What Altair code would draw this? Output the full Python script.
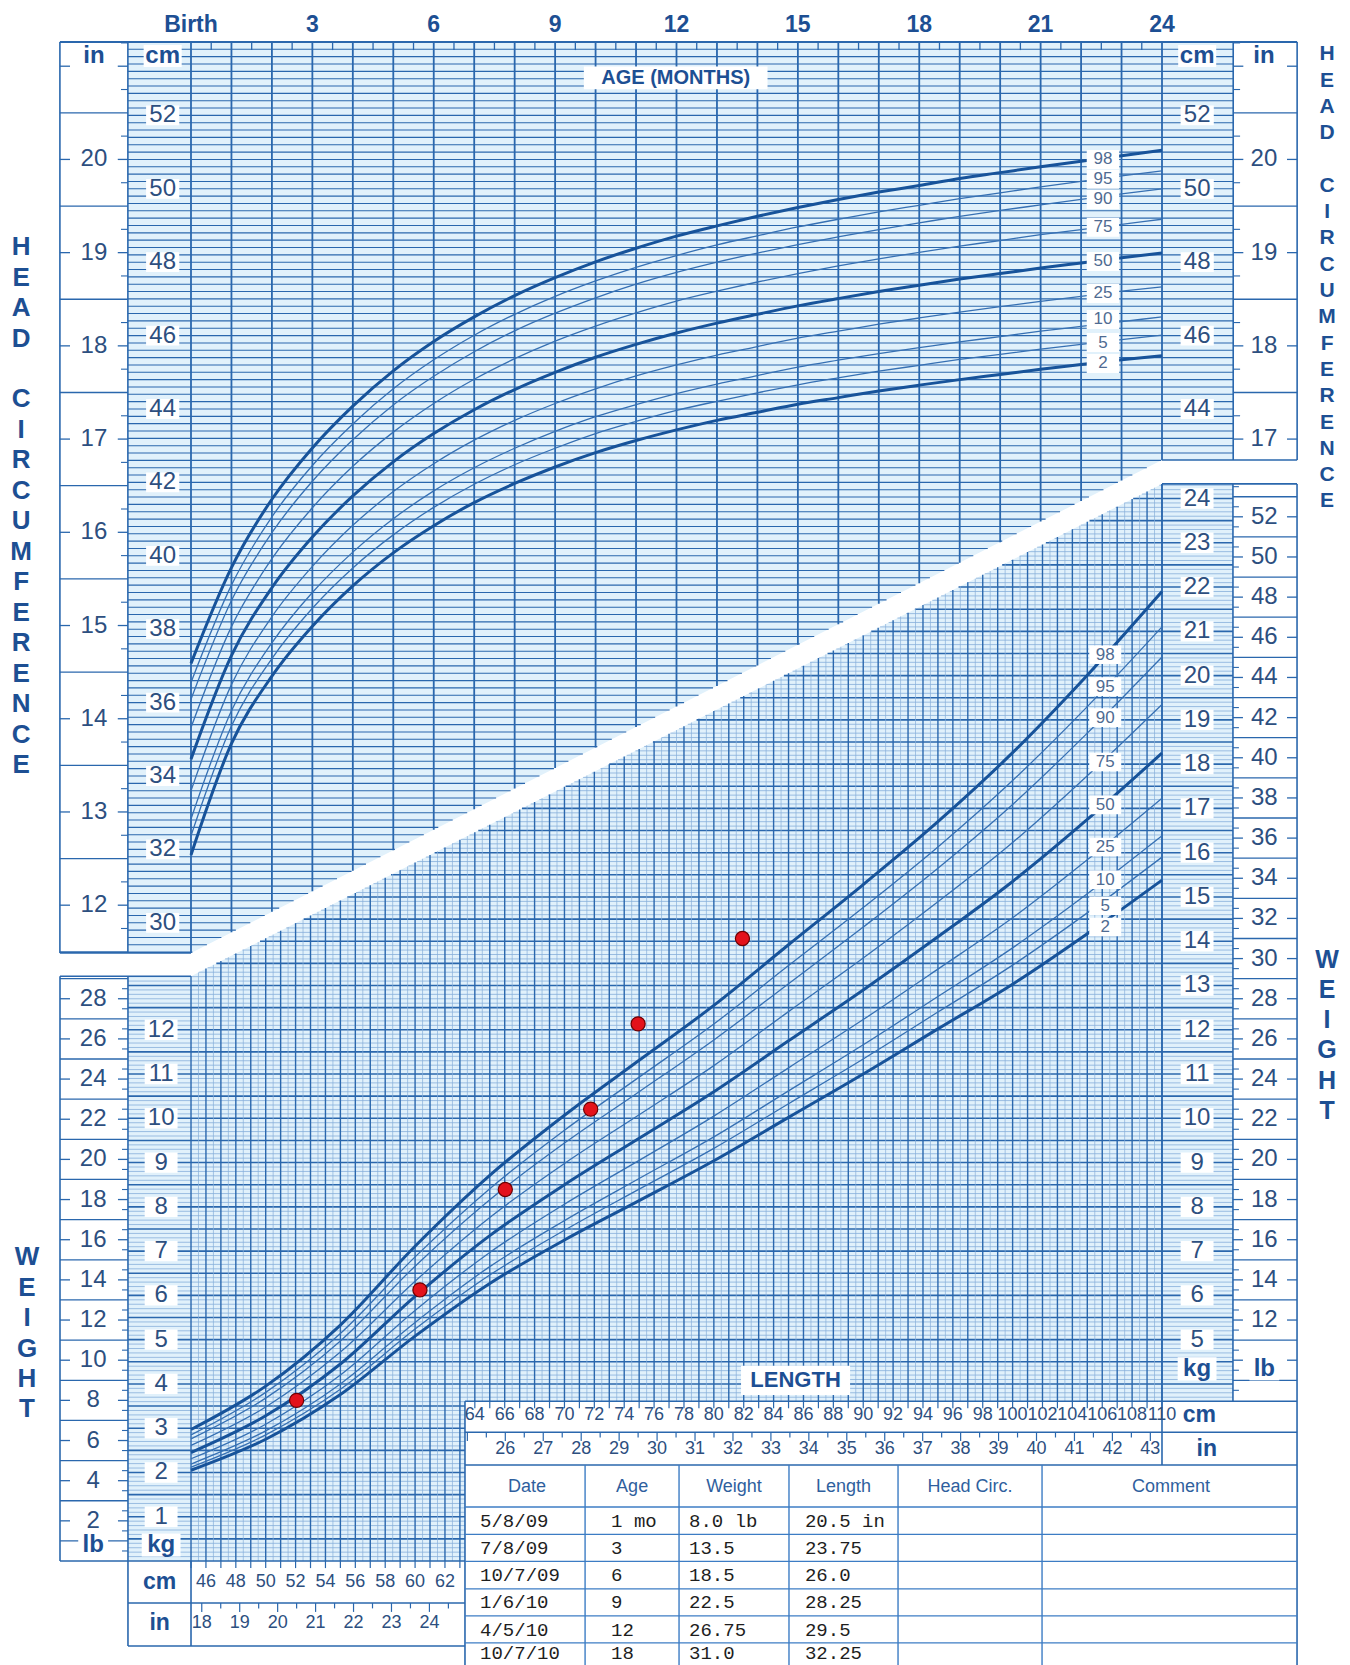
import altair as alt
import numpy as np
import pandas as pd

# ======================= values =======================
PCTS = ["2", "5", "10", "25", "50", "75", "90", "95", "98"]
HEAVY = ["2", "50", "98"]

# Head circumference-for-age percentiles (cm), birth .. 24 months
hc_age = list(range(0, 25))
hc_p2 = [31.85, 34.88, 36.72, 38.08, 39.18, 40.08, 40.82, 41.45, 41.97, 42.42, 42.81, 43.14, 43.43,
         43.69, 43.91, 44.13, 44.31, 44.49, 44.65, 44.80, 44.94, 45.08, 45.21, 45.34, 45.45]
hc_p5 = [32.37, 35.36, 37.20, 38.57, 39.67, 40.57, 41.32, 41.95, 42.48, 42.93, 43.33, 43.66, 43.96,
         44.21, 44.44, 44.66, 44.85, 45.03, 45.19, 45.35, 45.49, 45.63, 45.76, 45.89, 46.01]
hc_p10 = [32.83, 35.78, 37.63, 39.00, 40.10, 41.01, 41.77, 42.40, 42.93, 43.39, 43.79, 44.12, 44.42,
          44.68, 44.91, 45.14, 45.33, 45.51, 45.67, 45.83, 45.97, 46.12, 46.25, 46.38, 46.51]
hc_p25 = [33.60, 36.49, 38.34, 39.71, 40.83, 41.75, 42.51, 43.15, 43.69, 44.15, 44.55, 44.90, 45.20,
          45.47, 45.70, 45.93, 46.12, 46.31, 46.48, 46.64, 46.79, 46.93, 47.07, 47.21, 47.33]
hc_p50 = [34.46, 37.28, 39.13, 40.51, 41.63, 42.56, 43.33, 43.98, 44.53, 45.00, 45.41, 45.76, 46.07,
          46.34, 46.58, 46.81, 47.01, 47.20, 47.37, 47.54, 47.69, 47.84, 47.98, 48.12, 48.25]
hc_p75 = [35.32, 38.07, 39.92, 41.31, 42.44, 43.37, 44.15, 44.81, 45.37, 45.85, 46.26, 46.62, 46.94,
          47.21, 47.46, 47.69, 47.90, 48.09, 48.27, 48.44, 48.59, 48.75, 48.89, 49.03, 49.17]
hc_p90 = [36.09, 38.78, 40.63, 42.03, 43.16, 44.11, 44.89, 45.56, 46.13, 46.61, 47.03, 47.40, 47.72,
          48.00, 48.25, 48.48, 48.69, 48.89, 49.07, 49.25, 49.41, 49.56, 49.71, 49.86, 50.00]
hc_p95 = [36.55, 39.20, 41.06, 42.46, 43.59, 44.55, 45.34, 46.01, 46.58, 47.07, 47.49, 47.86, 48.18,
          48.47, 48.72, 48.96, 49.17, 49.37, 49.55, 49.73, 49.89, 50.05, 50.20, 50.35, 50.49]
hc_p98 = [37.07, 39.68, 41.54, 42.94, 44.08, 45.04, 45.84, 46.51, 47.09, 47.58, 48.01, 48.38, 48.71,
          48.99, 49.25, 49.49, 49.71, 49.91, 50.09, 50.28, 50.44, 50.60, 50.75, 50.90, 51.05]
hc_label_cm = [45.24, 45.81, 46.44, 47.15, 48.02, 48.95, 49.71, 50.26, 50.80]
HC_LABEL_AGE = 22.54

# Weight-for-length percentiles (kg), 45 .. 110 cm
wl_len = [45, 50, 55, 60, 65, 70, 75, 80, 85, 90, 95, 100, 105, 110]
wl_p2 = [2.05, 2.75, 3.76, 5.08, 6.27, 7.25, 8.14, 9.04, 10.02, 11.00, 12.02, 13.03, 14.17, 15.38]
wl_p5 = [2.12, 2.85, 3.88, 5.24, 6.46, 7.47, 8.40, 9.32, 10.33, 11.34, 12.40, 13.46, 14.64, 15.90]
wl_p10 = [2.19, 2.94, 4.00, 5.39, 6.65, 7.69, 8.64, 9.58, 10.62, 11.66, 12.75, 13.85, 15.07, 16.38]
wl_p25 = [2.31, 3.09, 4.20, 5.66, 6.97, 8.06, 9.05, 10.05, 11.14, 12.23, 13.37, 14.53, 15.84, 17.23]
wl_p50 = [2.45, 3.28, 4.45, 5.98, 7.35, 8.50, 9.55, 10.60, 11.75, 12.90, 14.10, 15.35, 16.75, 18.25]
wl_p75 = [2.61, 3.48, 4.72, 6.32, 7.76, 8.98, 10.08, 11.19, 12.41, 13.62, 14.89, 16.23, 17.74, 19.35]
wl_p90 = [2.76, 3.68, 4.97, 6.66, 8.16, 9.44, 10.60, 11.77, 13.04, 14.32, 15.65, 17.09, 18.70, 20.42]
wl_p95 = [2.85, 3.81, 5.14, 6.87, 8.41, 9.73, 10.93, 12.13, 13.45, 14.76, 16.13, 17.63, 19.30, 21.10]
wl_p98 = [2.97, 3.95, 5.33, 7.11, 8.71, 10.07, 11.31, 12.55, 13.92, 15.28, 16.70, 18.26, 20.01, 21.90]
wl_label_kg = [14.32, 14.80, 15.39, 16.13, 17.08, 18.05, 19.05, 19.75, 20.47]
WL_LABEL_LEN = 106.2

# Patient record (table + plotted points)
visit_date = ["5/8/09", "7/8/09", "10/7/09", "1/6/10", "4/5/10", "10/7/10"]
visit_age = ["1 mo", "3", "6", "9", "12", "18"]
visit_weight_txt = ["\u00a0\u00a08.0 lb", "13.5", "18.5", "22.5", "26.75", "31.0"]
visit_length_txt = ["20.5 in", "23.75", "26.0", "28.25", "29.5", "32.25"]
visit_weight_lb = [8.0, 13.5, 18.5, 22.5, 26.75, 31.0]
visit_length_in = [20.5, 23.75, 26.0, 28.25, 29.5, 32.25]
table_headers = ["Date", "Age", "Weight", "Length", "Head  Circ.", "Comment"]

# Tick labels
month_ticks = [0, 3, 6, 9, 12, 15, 18, 21, 24]
month_labels = ["Birth", "3", "6", "9", "12", "15", "18", "21", "24"]
hc_cm_left = [30, 32, 34, 36, 38, 40, 42, 44, 46, 48, 50, 52]
hc_in_left = [12, 13, 14, 15, 16, 17, 18, 19, 20]
hc_cm_right = [44, 46, 48, 50, 52]
hc_in_right = [17, 18, 19, 20]
wt_kg_left = [1, 2, 3, 4, 5, 6, 7, 8, 9, 10, 11, 12]
wt_lb_left = [2, 4, 6, 8, 10, 12, 14, 16, 18, 20, 22, 24, 26, 28]
wt_kg_right = list(range(5, 25))
wt_lb_right = list(range(12, 53, 2))
len_cm_left = [46, 48, 50, 52, 54, 56, 58, 60, 62]
len_in_left = [18, 19, 20, 21, 22, 23, 24]
len_cm_right = list(range(64, 111, 2))
len_in_right = list(range(26, 44))

TITLE_HEAD_1 = "\n".join("HEAD")
TITLE_HEAD_2 = "\n".join("CIRCUMFERENCE")
TITLE_WEIGHT = "\n".join("WEIGHT")

IN = 2.54
LB = 0.45359237

# ======================= layout (in chart units) =======================
W, H = 1334, 1657
HX_DOM = [-4.523, 28.449]
HY_DOM = [9.777, 54.926]
WX_DOM = [32.749, 122.050]
WY_DOM = [-2.349, 35.080]

AGE_MAX = 24
A_IN_L, A_CM_L, A_CM_R, A_IN_R = -3.24, -1.56, 25.76, 27.34
HC_TOP, HC_BAND_L, HC_BAND_R = 54.0, 29.18, 42.61

LEN_MIN, LEN_MAX = 45, 110
L_LB_L, L_KG_L, L_SPLIT, L_KG_R, L_LB_R = 36.23, 40.78, 63.34, 114.75, 119.04
KG_BAND_L, KG_BAND_R, KG_FLOOR_R = 13.21, 24.33, 3.61
BOXL_MID, BOXL_BOT = -0.95, -1.92
BOXR_MID, BOXR_BOT = 2.91, 2.17
TABLE_ROWS = [1.22, 0.60, -0.01, -0.63, -1.24, -1.85]
TABLE_TEXT_Y = [0.90, 0.29, -0.32, -0.93, -1.55, -2.07]
TABLE_HEAD_Y = 1.67
TABLE_BOT = -2.35
TABLE_COLS = [71.38, 77.67, 85.03, 92.33, 101.97]
TABLE_HEAD_X = [67.5, 74.53, 81.35, 88.68, 97.15, 110.6]
TABLE_TEXT_X = [64.35, 73.12, 78.34, 86.10]

BG = "#e1f1fb"
GRID = "#2a67ad"
GRID_LT = "#86afda"
CURVE = "#17539a"
CURVE_THIN = "#3670b3"
TXT = "#2d4f7f"
TXT_B = "#1d4f93"
PCT_TXT = "#4f6b92"
SANS = "Liberation Sans"
MONO = "Liberation Mono"

HXS = alt.Scale(domain=HX_DOM, nice=False, zero=False)
HYS = alt.Scale(domain=HY_DOM, nice=False, zero=False)
WXS = alt.Scale(domain=WX_DOM, nice=False, zero=False)
WYS = alt.Scale(domain=WY_DOM, nice=False, zero=False)


def xy(coord, stack=False):
    xs, ys = (HXS, HYS) if coord == "h" else (WXS, WYS)
    yk = dict(scale=ys, axis=None)
    if stack:
        yk["stack"] = None
    return dict(x=alt.X("x:Q", scale=xs, axis=None), y=alt.Y("y:Q", **yk))


def hseg(x, x2, y, c=GRID, w=1.3):
    return dict(x=x, x2=x2, y=y, y2=y, c=c, w=w)


def vseg(x, y, y2, c=GRID, w=1.3):
    return dict(x=x, x2=x, y=y, y2=y2, c=c, w=w)


def rules(rows, coord):
    return alt.Chart(pd.DataFrame(rows)).mark_rule(strokeCap="butt").encode(
        x2="x2:Q", y2="y2:Q",
        color=alt.Color("c:N", scale=None),
        strokeWidth=alt.StrokeWidth("w:Q", scale=None), **xy(coord))


def boxes(rows, coord, fill="white"):
    return alt.Chart(pd.DataFrame(rows)).mark_rect(fill=fill, stroke=None).encode(
        x2="x2:Q", y2="y2:Q", **xy(coord))


def texts(rows, coord, size, weight="normal", color=TXT, font=SANS, align="center", **kw):
    return alt.Chart(pd.DataFrame(rows)).mark_text(
        fontSize=size, fontWeight=weight, color=color, font=font, align=align,
        baseline="middle", **kw).encode(text="t:N", **xy(coord))


def box_around(x, y, hw, hh):
    return dict(x=x - hw, x2=x + hw, y=y - hh, y2=y + hh)


def kg_edge(L):
    return KG_BAND_L + (KG_BAND_R - KG_BAND_L) * (L - LEN_MIN) / (LEN_MAX - LEN_MIN)


def hc_edge(a):
    return HC_BAND_L + (HC_BAND_R - HC_BAND_L) * a / AGE_MAX


layers = []

# ---------- light-blue backgrounds ----------
head_bg = [dict(x=A_CM_L, y=HC_BAND_L, y2=HC_TOP, part="a"),
           dict(x=0, y=HC_BAND_L, y2=HC_TOP, part="a"),
           dict(x=AGE_MAX, y=HC_BAND_R, y2=HC_TOP, part="a"),
           dict(x=A_CM_R, y=HC_BAND_R, y2=HC_TOP, part="a")]
wt_bg = [dict(x=L_KG_L, y=0, y2=KG_BAND_L, part="a"),
         dict(x=LEN_MIN, y=0, y2=KG_BAND_L, part="a"),
         dict(x=L_SPLIT, y=0, y2=kg_edge(L_SPLIT), part="a"),
         dict(x=L_SPLIT, y=KG_FLOOR_R, y2=kg_edge(L_SPLIT), part="b"),
         dict(x=LEN_MAX, y=KG_FLOOR_R, y2=KG_BAND_R, part="b"),
         dict(x=L_KG_R, y=KG_FLOOR_R, y2=KG_BAND_R, part="b")]
for rows, coord in [(head_bg, "h"), (wt_bg, "w")]:
    layers.append(alt.Chart(pd.DataFrame(rows)).mark_area(color=BG, opacity=1).encode(
        y2="y2:Q", detail="part:N", **xy(coord, stack=True)))

# ---------- head-circumference grid ----------
hg = []
for c in np.round(np.arange(29.2, 53.9, 0.2), 1):
    end = A_CM_R if c >= HC_BAND_R else (c - HC_BAND_L) / (HC_BAND_R - HC_BAND_L) * AGE_MAX
    hg.append(hseg(A_CM_L, end, float(c), GRID, 1.1))
for m in range(0, AGE_MAX + 1):
    hg.append(vseg(m, hc_edge(m), HC_TOP, GRID, 1.8))
for m in np.arange(0.5, AGE_MAX, 1.0):
    hg.append(vseg(float(m), HC_TOP - 0.22, HC_TOP, GRID, 1.3))
# inch columns
for h in np.arange(11.5, 21.0, 1.0):
    hg.append(hseg(A_IN_L, A_CM_L, h * IN))
for i in range(12, 22):
    hg += [hseg(A_IN_L, A_IN_L + 0.25, i * IN), hseg(A_CM_L - 0.25, A_CM_L, i * IN)]
for q in np.arange(11.75, 21.3, 0.5):
    if HC_BAND_L < q * IN < HC_TOP:
        hg.append(hseg(A_CM_L - 0.17, A_CM_L, q * IN, GRID, 1.1))
for h in np.arange(17.5, 21.0, 1.0):
    hg.append(hseg(A_CM_R, A_IN_R, h * IN))
for i in range(17, 22):
    hg += [hseg(A_CM_R, A_CM_R + 0.25, i * IN), hseg(A_IN_R - 0.25, A_IN_R, i * IN)]
for q in np.arange(16.75, 21.3, 0.5):
    if HC_BAND_R < q * IN < HC_TOP:
        hg.append(hseg(A_CM_R, A_CM_R + 0.17, q * IN, GRID, 1.1))
# frame
hg += [hseg(A_IN_L, A_IN_R, HC_TOP, GRID, 1.8),
       vseg(A_IN_L, HC_BAND_L, HC_TOP, GRID, 1.6), vseg(A_CM_L, HC_BAND_L, HC_TOP, GRID, 1.6),
       vseg(A_CM_R, HC_BAND_R, HC_TOP, GRID, 1.6), vseg(A_IN_R, HC_BAND_R, HC_TOP, GRID, 1.6),
       hseg(A_IN_L, 0, HC_BAND_L, GRID, 1.6), hseg(AGE_MAX, A_IN_R, HC_BAND_R, GRID, 1.6)]
layers.append(rules(hg, "h"))

# ---------- weight-for-length grid ----------
wg = []
for k in np.round(np.arange(0.1, KG_BAND_R, 0.1), 1):
    k = float(k)
    start = L_KG_L if k <= KG_BAND_L else LEN_MIN + (k - KG_BAND_L) / (KG_BAND_R - KG_BAND_L) * (LEN_MAX - LEN_MIN)
    end = L_KG_R if k >= KG_FLOOR_R else L_SPLIT
    major = int(round(k * 10)) % 5 == 0
    wg.append(hseg(start, end, k, GRID if major else GRID_LT, 1.6 if major else 0.8))
for L in np.arange(LEN_MIN, LEN_MAX + 0.01, 0.5):
    L = float(L)
    whole = abs(L - round(L)) < 1e-6
    bottom = 0 if L <= L_SPLIT else KG_FLOOR_R
    wg.append(vseg(L, bottom, kg_edge(L), GRID if whole else GRID_LT, 1.4 if whole else 0.7))
# pound columns
for o in range(1, 30, 2):
    if o * LB < KG_BAND_L:
        wg.append(hseg(L_LB_L, L_KG_L, o * LB))
for e in range(2, 30, 2):
    wg += [hseg(L_LB_L, L_LB_L + 0.67, e * LB), hseg(L_KG_L - 0.67, L_KG_L, e * LB)]
for hl in np.arange(0.5, 29.2, 1.0):
    wg.append(hseg(L_KG_L - 0.4, L_KG_L, hl * LB, GRID, 1.1))
for o in range(9, 54, 2):
    if KG_FLOOR_R < o * LB < KG_BAND_R:
        wg.append(hseg(L_KG_R, L_LB_R, o * LB))
for e in range(10, 54, 2):
    wg += [hseg(L_KG_R, L_KG_R + 0.67, e * LB), hseg(L_LB_R - 0.67, L_LB_R, e * LB)]
for hl in np.arange(8.5, 53.6, 1.0):
    if KG_FLOOR_R < hl * LB < KG_BAND_R:
        wg.append(hseg(L_KG_R, L_KG_R + 0.4, hl * LB, GRID, 1.1))
# frame
wg += [hseg(L_LB_L, LEN_MIN, KG_BAND_L, GRID, 1.6),
       vseg(L_LB_L, 0, KG_BAND_L, GRID, 1.6), vseg(L_KG_L, BOXL_BOT, KG_BAND_L, GRID, 1.6),
       vseg(LEN_MIN, BOXL_BOT, 0, GRID, 1.6),
       hseg(L_LB_L, L_SPLIT, 0, GRID, 1.6), hseg(L_KG_L, L_SPLIT, BOXL_MID, GRID, 1.6),
       hseg(L_KG_L, L_SPLIT, BOXL_BOT, GRID, 1.6),
       vseg(L_SPLIT, TABLE_BOT, KG_FLOOR_R, GRID, 1.6),
       hseg(LEN_MAX, L_LB_R, KG_BAND_R, GRID, 1.6),
       vseg(LEN_MAX, BOXR_BOT, KG_BAND_R, GRID, 1.6), vseg(L_KG_R, KG_FLOOR_R, KG_BAND_R, GRID, 1.6),
       vseg(L_LB_R, TABLE_BOT, KG_BAND_R, GRID, 1.6),
       hseg(L_SPLIT, L_LB_R, KG_FLOOR_R, GRID, 1.6), hseg(L_SPLIT, L_LB_R, BOXR_MID, GRID, 1.6),
       hseg(L_SPLIT, L_LB_R, BOXR_BOT, GRID, 1.6)]
# length-axis ticks
for L in range(LEN_MIN, 64):
    wg.append(vseg(L, -0.16, 0, GRID, 1.2))
for h in np.arange(18, 25, 0.5):
    c = h * IN
    if LEN_MIN < c < L_SPLIT:
        wg.append(vseg(c, BOXL_MID - (0.2 if h == int(h) else 0.12), BOXL_MID, GRID, 1.2))
for L in range(64, LEN_MAX + 1):
    wg.append(vseg(L, KG_FLOOR_R - 0.16, KG_FLOOR_R, GRID, 1.2))
for h in np.arange(25, 43.5, 0.5):
    c = h * IN
    if L_SPLIT < c <= LEN_MAX:
        wg.append(vseg(c, BOXR_MID - (0.2 if h == int(h) else 0.12), BOXR_MID, GRID, 1.2))
# table lines
for ty in TABLE_ROWS:
    wg.append(hseg(L_SPLIT, L_LB_R, ty, "#3c7cc4", 1.3))
for tx in TABLE_COLS:
    wg.append(vseg(tx, TABLE_BOT, BOXR_BOT, "#3c7cc4", 1.4))
layers.append(rules(wg, "w"))

# ---------- percentile curves ----------
hc_series = [hc_p2, hc_p5, hc_p10, hc_p25, hc_p50, hc_p75, hc_p90, hc_p95, hc_p98]
wl_series = [wl_p2, wl_p5, wl_p10, wl_p25, wl_p50, wl_p75, wl_p90, wl_p95, wl_p98]
hc_long = pd.DataFrame([dict(x=a, y=v, p=p) for p, s in zip(PCTS, hc_series) for a, v in zip(hc_age, s)])
wl_long = pd.DataFrame([dict(x=L, y=v, p=p) for p, s in zip(PCTS, wl_series) for L, v in zip(wl_len, s)])
for df, coord in [(hc_long, "h"), (wl_long, "w")]:
    thin = df[~df.p.isin(HEAVY)]
    heavy = df[df.p.isin(HEAVY)]
    layers.append(alt.Chart(thin).mark_line(interpolate="monotone", color=CURVE_THIN, strokeWidth=1.3)
                  .encode(detail="p:N", **xy(coord)))
    layers.append(alt.Chart(heavy).mark_line(interpolate="monotone", color=CURVE, strokeWidth=3.0)
                  .encode(detail="p:N", **xy(coord)))

# ---------- white label boxes ----------
hbox = []
hbox += [box_around(-0.70, c, 0.41, 0.27) for c in hc_cm_left]
hbox += [box_around(24.87, c, 0.41, 0.27) for c in hc_cm_right]
hbox += [box_around(-0.70, 53.62, 0.47, 0.30), box_around(24.87, 53.62, 0.47, 0.30)]
hbox += [box_around(HC_LABEL_AGE, c, 0.40, 0.26) for c in hc_label_cm]
hbox += [box_around(11.98, 53.02, 2.27, 0.31)]
layers.append(boxes(hbox, "h"))

wbox = []
wbox += [box_around(43.0, k, 1.1, 0.23) for k in wt_kg_left]
wbox += [box_around(112.35, k, 1.1, 0.23) for k in wt_kg_right]
wbox += [box_around(43.0, 0.36, 1.3, 0.26), box_around(112.35, 4.34, 1.3, 0.26),
         box_around(38.45, 0.36, 1.0, 0.26), box_around(116.85, 4.34, 1.0, 0.26)]
wbox += [box_around(WL_LABEL_LEN, k, 1.07, 0.21) for k in wl_label_kg]
wbox += [box_around(85.47, 4.08, 3.65, 0.33)]
layers.append(boxes(wbox, "w"))

# ---------- texts: head panel ----------
layers.append(texts([dict(x=a, y=54.47, t=t) for a, t in zip(month_ticks, month_labels)], "h", 23, "bold", TXT_B))
layers.append(texts([dict(x=-0.70, y=c, t=str(c)) for c in hc_cm_left] +
                    [dict(x=24.87, y=c, t=str(c)) for c in hc_cm_right] +
                    [dict(x=-2.40, y=i * IN, t=str(i)) for i in hc_in_left] +
                    [dict(x=26.52, y=i * IN, t=str(i)) for i in hc_in_right], "h", 24))
layers.append(texts([dict(x=-2.40, y=53.62, t="in"), dict(x=-0.70, y=53.62, t="cm"),
                     dict(x=24.87, y=53.62, t="cm"), dict(x=26.52, y=53.62, t="in")], "h", 24, "bold", TXT_B))
layers.append(texts([dict(x=11.98, y=53.02, t="AGE (MONTHS)")], "h", 20, "bold", TXT_B))
layers.append(texts([dict(x=HC_LABEL_AGE, y=c, t=p) for c, p in zip(hc_label_cm, PCTS)], "h", 17, color=PCT_TXT))
# vertical titles: y is the position of the first letter of each word
layers.append(texts([dict(x=-4.20, y=48.41, t=TITLE_HEAD_1), dict(x=-4.20, y=44.26, t=TITLE_HEAD_2)],
                    "h", 26, "bold", TXT_B, lineBreak="\n", lineHeight=30.5))
layers.append(texts([dict(x=28.08, y=53.66, t=TITLE_HEAD_1), dict(x=28.08, y=50.08, t=TITLE_HEAD_2)],
                    "h", 21, "bold", TXT_B, lineBreak="\n", lineHeight=26.3))

# ---------- texts: weight panel ----------
layers.append(texts([dict(x=43.0, y=k, t=str(k)) for k in wt_kg_left] +
                    [dict(x=112.35, y=k, t=str(k)) for k in wt_kg_right] +
                    [dict(x=38.45, y=b * LB, t=str(b)) for b in wt_lb_left] +
                    [dict(x=116.85, y=b * LB, t=str(b)) for b in wt_lb_right], "w", 24))
layers.append(texts([dict(x=43.0, y=0.36, t="kg"), dict(x=38.45, y=0.36, t="lb"),
                     dict(x=112.35, y=4.34, t="kg"), dict(x=116.85, y=4.34, t="lb")], "w", 24, "bold", TXT_B))
layers.append(texts([dict(x=WL_LABEL_LEN, y=k, t=p) for k, p in zip(wl_label_kg, PCTS)], "w", 17, color=PCT_TXT))
layers.append(texts([dict(x=85.47, y=4.08, t="LENGTH")], "w", 22, "bold", TXT_B))
layers.append(texts([dict(x=34.02, y=6.86, t=TITLE_WEIGHT)],
                    "w", 26, "bold", TXT_B, lineBreak="\n", lineHeight=30.4))
layers.append(texts([dict(x=121.05, y=13.58, t=TITLE_WEIGHT)],
                    "w", 25, "bold", TXT_B, lineBreak="\n", lineHeight=30.2))

# length axes
layers.append(texts([dict(x=c, y=-0.47, t=str(c)) for c in len_cm_left] +
                    [dict(x=i * IN, y=-1.40, t=str(i)) for i in len_in_left] +
                    [dict(x=c, y=3.30, t=str(c)) for c in len_cm_right] +
                    [dict(x=i * IN, y=2.53, t=str(i)) for i in len_in_right], "w", 18))
layers.append(texts([dict(x=42.9, y=-0.47, t="cm"), dict(x=42.9, y=-1.40, t="in"),
                     dict(x=112.5, y=3.30, t="cm"), dict(x=113.0, y=2.53, t="in")], "w", 23, "bold", TXT_B))

# ---------- table ----------
layers.append(texts([dict(x=x, y=TABLE_HEAD_Y, t=t) for x, t in zip(TABLE_HEAD_X, table_headers)],
                    "w", 18, color="#2f5f9e"))
cells = []
for col, x in zip([visit_date, visit_age, visit_weight_txt, visit_length_txt], TABLE_TEXT_X):
    for v, y in zip(col, TABLE_TEXT_Y):
        cells.append(dict(x=x, y=y, t=v))
layers.append(texts(cells, "w", 19, color="#1e1e1e", font=MONO, align="left"))

# ---------- measurements ----------
pts = pd.DataFrame(dict(x=[v * IN for v in visit_length_in], y=[v * LB for v in visit_weight_lb]))
layers.append(alt.Chart(pts).mark_circle(size=200, color="#e3121b", opacity=1,
                                         stroke="#6e0000", strokeWidth=1.2).encode(**xy("w")))

chart = alt.layer(*layers).resolve_scale(x="independent", y="independent").properties(
    width=W, height=H, padding=0, autosize=alt.AutoSizeParams(type="none"),
    background="white").configure_view(stroke=None)

chart.save("out.html", embed_options={"renderer": "svg", "actions": False})
